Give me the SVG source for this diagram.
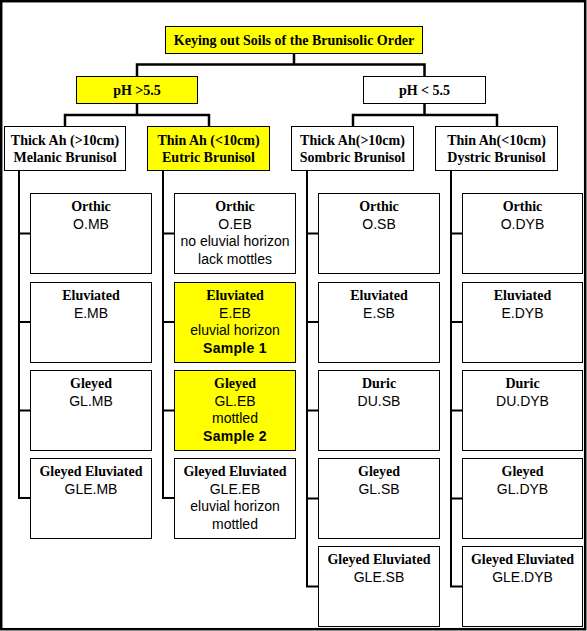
<svg xmlns="http://www.w3.org/2000/svg" width="587" height="631" viewBox="0 0 587 631">
<style>
.box{stroke:#000;stroke-width:1;fill:#fff}
.y{fill:#ffff00}
.ln{fill:none;stroke:#000;stroke-width:2.5}
.br{fill:none;stroke:#000;stroke-width:2}
.h{font-family:"Liberation Serif","Times New Roman",serif;font-weight:bold;font-size:14px;text-anchor:middle;fill:#000}
.s{font-family:"Liberation Sans",Arial,sans-serif;font-size:14px;text-anchor:middle;fill:#000}
.sb{font-family:"Liberation Sans",Arial,sans-serif;font-weight:bold;font-size:14px;text-anchor:middle;fill:#000;letter-spacing:0.3px}
</style>
<rect x="1.2" y="1.2" width="584" height="628" fill="#fff" stroke="#000" stroke-width="2.5"/>
<g id="connectors">
<path class="ln" d="M294,53.5V64.5M137,76.5V64.5H424.5V76.5"/>
<path class="ln" d="M137,103.5V115M65,126.5V115H209V126.5"/>
<path class="ln" d="M424.5,103.5V115M353,126.5V115H497V126.5"/>
<path class="br" d="M19,170.5V498H30.5M19,233.5H30.5M19,322H30.5M19,410.5H30.5"/>
<path class="br" d="M163,170.5V498H174.5M163,233.5H174.5M163,322H174.5M163,410.5H174.5"/>
<path class="br" d="M307,170.5V586.5H318.5M307,233.5H318.5M307,322H318.5M307,410.5H318.5M307,498.5H318.5"/>
<path class="br" d="M451,170.5V586.5H462.5M451,233.5H462.5M451,322H462.5M451,410.5H462.5M451,498.5H462.5"/>
</g>
<g id="title"><rect class="box y" x="165.5" y="26.5" width="257" height="27"/><text class="h" x="294" y="45">Keying out Soils of the Brunisolic Order</text></g>
<g id="ph-high"><rect class="box y" x="76.5" y="76.5" width="121" height="27"/><text class="h" x="137" y="95">pH &gt;5.5</text></g>
<g id="ph-low"><rect class="box" x="363.5" y="76.5" width="122" height="27"/><text class="h" x="424.5" y="95">pH &lt; 5.5</text></g>
<g id="melanic"><rect class="box" x="4.5" y="126.5" width="121" height="44"/><text class="h" x="65" y="145">Thick Ah (&gt;10cm)</text><text class="h" x="65" y="162">Melanic Brunisol</text></g>
<g id="eutric"><rect class="box y" x="147.5" y="126.5" width="122" height="44"/><text class="h" x="208.5" y="145">Thin Ah (&lt;10cm)</text><text class="h" x="208.5" y="162">Eutric Brunisol</text></g>
<g id="sombric"><rect class="box" x="291.5" y="126.5" width="122" height="44"/><text class="h" x="352.5" y="145">Thick Ah(&gt;10cm)</text><text class="h" x="352.5" y="162">Sombric Brunisol</text></g>
<g id="dystric"><rect class="box" x="435.5" y="126.5" width="122" height="44"/><text class="h" x="496.5" y="145">Thin Ah(&lt;10cm)</text><text class="h" x="496.5" y="162">Dystric Brunisol</text></g>

<g id="omb"><rect class="box" x="30.5" y="193.5" width="121" height="80"/><text class="h" x="91" y="211">Orthic</text><text class="s" x="91" y="228.5">O.MB</text></g>
<g id="emb"><rect class="box" x="30.5" y="282.5" width="121" height="80"/><text class="h" x="91" y="300">Eluviated</text><text class="s" x="91" y="317.5">E.MB</text></g>
<g id="glmb"><rect class="box" x="30.5" y="370.5" width="121" height="80"/><text class="h" x="91" y="388">Gleyed</text><text class="s" x="91" y="405.5">GL.MB</text></g>
<g id="glemb"><rect class="box" x="30.5" y="458.5" width="121" height="80"/><text class="h" x="91" y="476">Gleyed Eluviated</text><text class="s" x="91" y="493.5">GLE.MB</text></g>

<g id="oeb"><rect class="box" x="174.5" y="193.5" width="121" height="80"/><text class="h" x="235" y="211">Orthic</text><text class="s" x="235" y="228.5">O.EB</text><text class="s" x="235" y="246">no eluvial horizon</text><text class="s" x="235" y="263.5">lack mottles</text></g>
<g id="eeb"><rect class="box y" x="174.5" y="282.5" width="121" height="80"/><text class="h" x="235" y="300">Eluviated</text><text class="s" x="235" y="317.5">E.EB</text><text class="s" x="235" y="335">eluvial horizon</text><text class="sb" x="235" y="352.5">Sample 1</text></g>
<g id="gleb"><rect class="box y" x="174.5" y="370.5" width="121" height="80"/><text class="h" x="235" y="388">Gleyed</text><text class="s" x="235" y="405.5">GL.EB</text><text class="s" x="235" y="423">mottled</text><text class="sb" x="235" y="440.5">Sample 2</text></g>
<g id="gleeb"><rect class="box" x="174.5" y="458.5" width="121" height="80"/><text class="h" x="235" y="476">Gleyed Eluviated</text><text class="s" x="235" y="493.5">GLE.EB</text><text class="s" x="235" y="511">eluvial horizon</text><text class="s" x="235" y="528.5">mottled</text></g>

<g id="osb"><rect class="box" x="318.5" y="193.5" width="121" height="80"/><text class="h" x="379" y="211">Orthic</text><text class="s" x="379" y="228.5">O.SB</text></g>
<g id="esb"><rect class="box" x="318.5" y="282.5" width="121" height="80"/><text class="h" x="379" y="300">Eluviated</text><text class="s" x="379" y="317.5">E.SB</text></g>
<g id="dusb"><rect class="box" x="318.5" y="370.5" width="121" height="80"/><text class="h" x="379" y="388">Duric</text><text class="s" x="379" y="405.5">DU.SB</text></g>
<g id="glsb"><rect class="box" x="318.5" y="458.5" width="121" height="80"/><text class="h" x="379" y="476">Gleyed</text><text class="s" x="379" y="493.5">GL.SB</text></g>
<g id="glesb"><rect class="box" x="318.5" y="546.5" width="121" height="80"/><text class="h" x="379" y="564">Gleyed Eluviated</text><text class="s" x="379" y="581.5">GLE.SB</text></g>

<g id="odyb"><rect class="box" x="462.5" y="193.5" width="120" height="80"/><text class="h" x="522.5" y="211">Orthic</text><text class="s" x="522.5" y="228.5">O.DYB</text></g>
<g id="edyb"><rect class="box" x="462.5" y="282.5" width="120" height="80"/><text class="h" x="522.5" y="300">Eluviated</text><text class="s" x="522.5" y="317.5">E.DYB</text></g>
<g id="dudyb"><rect class="box" x="462.5" y="370.5" width="120" height="80"/><text class="h" x="522.5" y="388">Duric</text><text class="s" x="522.5" y="405.5">DU.DYB</text></g>
<g id="gldyb"><rect class="box" x="462.5" y="458.5" width="120" height="80"/><text class="h" x="522.5" y="476">Gleyed</text><text class="s" x="522.5" y="493.5">GL.DYB</text></g>
<g id="gledyb"><rect class="box" x="462.5" y="546.5" width="120" height="80"/><text class="h" x="522.5" y="564">Gleyed Eluviated</text><text class="s" x="522.5" y="581.5">GLE.DYB</text></g>
</svg>
